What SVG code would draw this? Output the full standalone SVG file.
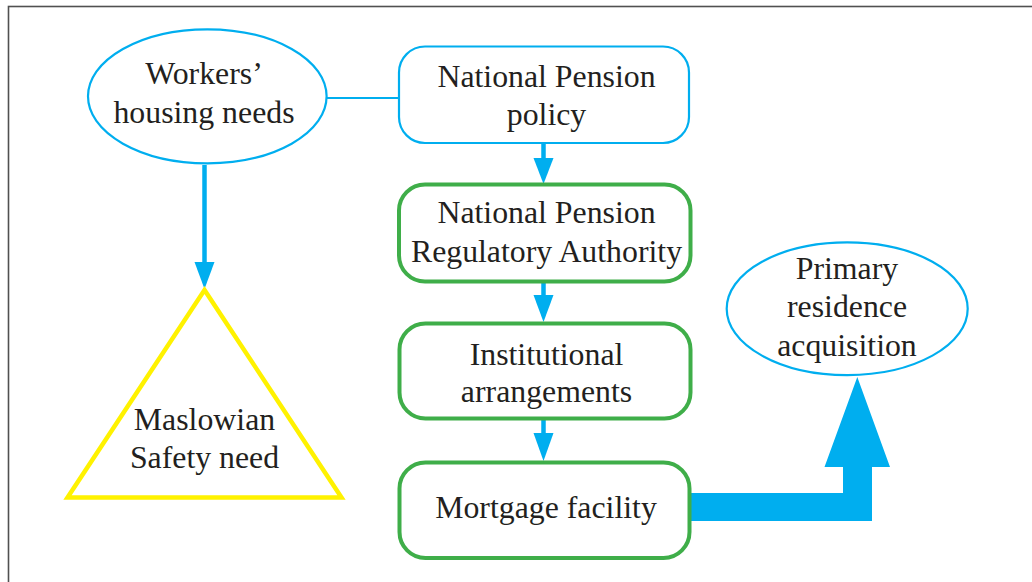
<svg xmlns="http://www.w3.org/2000/svg" width="1032" height="582" viewBox="0 0 1032 582">
  <style>
    .lbl { font-family: "Liberation Serif", "Times New Roman", serif; font-size: 31.8px; fill: #231f20; text-anchor: middle; }
    .blue { fill: #ffffff; stroke: #00aeef; stroke-width: 2.2; }
    .green { fill: #ffffff; stroke: #3fae49; stroke-width: 4; }
    .tri { fill: #ffffff; stroke: #fff200; stroke-width: 4.5; stroke-linejoin: miter; }
    .shaft { stroke: #00aeef; stroke-width: 4.5; fill: none; }
    .head { fill: #00aeef; stroke: none; }
  </style>

  <rect x="0" y="0" width="1032" height="582" fill="#ffffff"/>
  <!-- frame: only the top and left edges fall inside the canvas -->
  <rect x="8.5" y="6.5" width="1100" height="700" fill="none" stroke="#505050" stroke-width="1.6"/>

  <!-- connectors -->
  <g id="connectors">
    <line x1="326" y1="98" x2="399" y2="98" stroke="#00aeef" stroke-width="2"/>
    <!-- workers' needs down to the safety pyramid -->
    <line class="shaft" x1="204.5" y1="165" x2="204.5" y2="264"/>
    <polygon class="head" points="194.5,262 214.5,262 204.5,289"/>
    <!-- policy -> authority -->
    <line class="shaft" x1="543.5" y1="143" x2="543.5" y2="160"/>
    <polygon class="head" points="533.5,158 553.5,158 543.5,184"/>
    <!-- authority -> arrangements -->
    <line class="shaft" x1="543.5" y1="282" x2="543.5" y2="297"/>
    <polygon class="head" points="533.5,295 553.5,295 543.5,322"/>
    <!-- arrangements -> mortgage -->
    <line class="shaft" x1="543.5" y1="419" x2="543.5" y2="435"/>
    <polygon class="head" points="533.5,433 553.5,433 543.5,461"/>
    <!-- broad elbow arrow from mortgage facility up to acquisition -->
    <polygon class="head" points="688,493 843,493 843,467 824.5,467 857.3,377 890,467 872,467 872,521 688,521"/>
  </g>

  <g id="workers-housing-needs">
    <ellipse class="blue" cx="207.3" cy="96.3" rx="119.3" ry="67"/>
    <text class="lbl" x="204" y="84">Workers’</text>
    <text class="lbl" x="204" y="122.5">housing needs</text>
  </g>

  <g id="maslowian-safety-need">
    <polygon class="tri" points="204.5,290 341.5,497.5 67.5,497.5"/>
    <text class="lbl" x="204.5" y="430">Maslowian</text>
    <text class="lbl" x="204.5" y="468">Safety need</text>
  </g>

  <g id="national-pension-policy">
    <rect class="blue" x="399" y="46.5" width="290" height="96.5" rx="26" ry="26"/>
    <text class="lbl" x="546.5" y="87">National Pension</text>
    <text class="lbl" x="546.5" y="125">policy</text>
  </g>

  <g id="regulatory-authority">
    <rect class="green" x="399" y="184.5" width="291.5" height="97" rx="26" ry="26"/>
    <text class="lbl" x="546.5" y="223.3">National Pension</text>
    <text class="lbl" x="546.5" y="262.3">Regulatory Authority</text>
  </g>

  <g id="institutional-arrangements">
    <rect class="green" x="399.5" y="323.5" width="291" height="95" rx="26" ry="26"/>
    <text class="lbl" x="546.5" y="365">Institutional</text>
    <text class="lbl" x="546.5" y="401.7">arrangements</text>
  </g>

  <g id="mortgage-facility">
    <rect class="green" x="399.5" y="462.5" width="290" height="95.5" rx="26" ry="26"/>
    <text class="lbl" x="546" y="518.3">Mortgage facility</text>
  </g>

  <g id="primary-residence-acquisition">
    <ellipse class="blue" cx="847.2" cy="308.7" rx="120.5" ry="66.4"/>
    <text class="lbl" x="847" y="279.3">Primary</text>
    <text class="lbl" x="847" y="317.3">residence</text>
    <text class="lbl" x="847" y="356">acquisition</text>
  </g>
</svg>
